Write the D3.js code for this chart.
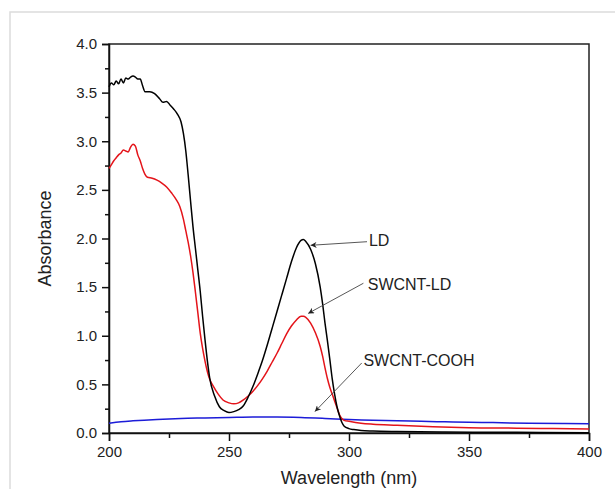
<!DOCTYPE html>
<html>
<head>
<meta charset="utf-8">
<script src="https://cdn.jsdelivr.net/npm/d3@7"></script>
<style>
    body { margin: 0; background: #fff; }
    svg { font-family: "Liberation Sans", Arial, sans-serif; }
    .axis path, .axis line { stroke: #111; }
    .axis text { fill: #222; font-size: 15px; }
    .axis-label { fill: #222; font-size: 18px; }
    .note { fill: #222; font-size: 16px; }
</style>
</head>
<body>
<svg id="chart" width="615" height="489"></svg>
<script>
// LD (black)
const ldSeries = [
    [200, 3.56], [201, 3.60], [202, 3.58], [203, 3.62], [204, 3.59], [205, 3.64], [206, 3.60],
    [207, 3.65], [208, 3.64], [209, 3.66], [210, 3.67], [211, 3.66], [212, 3.64], [213, 3.64],
    [214, 3.57], [215, 3.51], [217, 3.51], [219, 3.49], [221, 3.44], [222.5, 3.40], [224, 3.41],
    [225.5, 3.37], [227, 3.33], [228.5, 3.28], [230, 3.20], [231, 3.08], [232, 2.90], [233, 2.65],
    [234, 2.38], [235, 2.12], [236, 1.90], [237, 1.68], [238, 1.46], [239, 1.20], [240, 0.96],
    [241, 0.74], [242, 0.56], [244, 0.38], [246, 0.27], [248, 0.23], [250, 0.21], [252, 0.22],
    [254, 0.24], [256, 0.28], [258, 0.37], [260, 0.48], [262, 0.61], [264, 0.75], [266, 0.91],
    [268, 1.08], [270, 1.25], [272, 1.42], [274, 1.59], [276, 1.76], [278, 1.90], [280, 1.98],
    [281, 1.99], [282, 1.97], [284, 1.89], [286, 1.74], [288, 1.50], [289, 1.33], [290, 1.13],
    [291, 0.95], [292, 0.76], [293, 0.56], [294, 0.40], [295, 0.27], [296, 0.18], [297, 0.11],
    [298, 0.07], [300, 0.045], [302, 0.035], [305, 0.025], [310, 0.02], [320, 0.015], [340, 0.01],
    [360, 0.008], [380, 0.005], [400, 0.003]
];

// SWCNT-LD (red)
const swcntLdSeries = [
    [200, 2.72], [201, 2.76], [202, 2.80], [203, 2.83], [204, 2.86], [205, 2.88], [206, 2.91],
    [207, 2.90], [208, 2.89], [209, 2.94], [210, 2.97], [211, 2.95], [212, 2.86], [213, 2.80],
    [214, 2.72], [215, 2.66], [216, 2.63], [218, 2.62], [220, 2.60], [222, 2.57], [224, 2.53],
    [226, 2.47], [228, 2.40], [229.5, 2.33], [231, 2.20], [232, 2.08], [233, 1.96], [234, 1.82],
    [235, 1.65], [236, 1.45], [237, 1.24], [238, 1.03], [239, 0.87], [240, 0.74], [241, 0.63],
    [242, 0.55], [243.5, 0.48], [245.5, 0.40], [247.5, 0.34], [250, 0.31], [252, 0.30], [254, 0.31],
    [256, 0.34], [258, 0.38], [260, 0.43], [262, 0.49], [264, 0.56], [266, 0.64], [268, 0.73],
    [270, 0.82], [272, 0.92], [274, 1.02], [276, 1.10], [278, 1.16], [280, 1.20], [281, 1.20],
    [282, 1.19], [284, 1.13], [286, 1.03], [288, 0.89], [289, 0.79], [290, 0.67], [291, 0.56],
    [292, 0.47], [293, 0.40], [294, 0.33], [295, 0.26], [296, 0.19], [297, 0.15], [298, 0.13],
    [300, 0.12], [305, 0.10], [310, 0.09], [320, 0.08], [335, 0.065], [350, 0.055], [370, 0.05],
    [385, 0.045], [400, 0.04]
];

// SWCNT-COOH (blue)
const swcntCoohSeries = [
    [200, 0.10], [205, 0.115], [210, 0.125], [220, 0.14], [230, 0.15], [240, 0.155], [250, 0.16],
    [260, 0.165], [270, 0.165], [280, 0.16], [290, 0.15], [300, 0.138], [310, 0.13], [320, 0.127],
    [330, 0.12], [340, 0.115], [350, 0.11], [360, 0.107], [375, 0.10], [390, 0.097], [400, 0.096]
];

const xTicks = [200, 250, 300, 350, 400];
const xMinorTicks = [225, 275, 325, 375];
const yTicks = [0, 0.5, 1.0, 1.5, 2.0, 2.5, 3.0, 3.5, 4.0];
const yMinorTicks = [0.25, 0.75, 1.25, 1.75, 2.25, 2.75, 3.25, 3.75];

// annotation: text anchor and arrow from/to, in data units
const notes = [
    {label: "LD", text: [308.3, 1.92], from: [307.5, 1.967], to: [284.0, 1.93]},
    {label: "SWCNT-LD", text: [307.8, 1.47], from: [306, 1.54], to: [283.0, 1.23]},
    {label: "SWCNT-COOH", text: [306, 0.69], from: [305.3, 0.72], to: [285.8, 0.22]}
];

const svg = d3.select("#chart");
const margins = {left: 109, right: 26, top: 44, bottom: 56};
const width = 615, height = 489;

// light outer border of the figure
svg.append("path")
    .attr("d", `M10,${height + 2}V12H${width + 2}`)
    .attr("fill", "none")
    .attr("stroke", "#dcdcdc")
    .attr("stroke-width", 1.5);

const x = d3.scaleLinear().domain([200, 400]).range([margins.left, width - margins.right]);
const y = d3.scaleLinear().domain([0, 4]).range([height - margins.bottom, margins.top]);

const g = svg.append("g");

// frame
g.append("rect")
    .attr("x", x(200)).attr("y", y(4))
    .attr("width", x(400) - x(200)).attr("height", y(0) - y(4))
    .attr("fill", "none")
    .attr("stroke", "#222")
    .attr("stroke-width", 1.5);

g.append("g")
    .attr("class", "axis")
    .attr("transform", `translate(0,${y(0)})`)
    .call(d3.axisBottom(x).tickValues(xMinorTicks).tickSize(5).tickFormat(""))
    .call(a => a.select(".domain").remove())
    .selectAll("line").attr("stroke-width", 1.5);

g.append("g")
    .attr("class", "axis")
    .attr("transform", `translate(0,${y(0)})`)
    .call(d3.axisBottom(x).tickValues(xTicks).tickSize(8).tickPadding(5).tickFormat(d3.format("d")))
    .call(a => a.select(".domain").attr("stroke-width", 1.5))
    .selectAll("line").attr("stroke-width", 1.5);

g.append("g")
    .attr("class", "axis")
    .attr("transform", `translate(${x(200)},0)`)
    .call(d3.axisLeft(y).tickValues(yMinorTicks).tickSize(4).tickFormat(""))
    .call(a => a.select(".domain").remove())
    .selectAll("line").attr("stroke-width", 1.5);

g.append("g")
    .attr("class", "axis")
    .attr("transform", `translate(${x(200)},0)`)
    .call(d3.axisLeft(y).tickValues(yTicks).tickSize(7).tickPadding(5).tickFormat(d3.format(".1f")))
    .call(a => a.select(".domain").attr("stroke-width", 1.5))
    .selectAll("line").attr("stroke-width", 1.5);

// axis titles
g.append("text")
    .attr("class", "axis-label")
    .attr("x", (x(200) + x(400)) / 2)
    .attr("y", 484)
    .style("text-anchor", "middle")
    .text("Wavelength (nm)");

g.append("text")
    .attr("class", "axis-label")
    .attr("transform", `translate(51,${(y(0) + y(4)) / 2}) rotate(-90)`)
    .style("text-anchor", "middle")
    .text("Absorbance");

// curves
const line = d3.line().x(d => x(d[0])).y(d => y(d[1])).curve(d3.curveMonotoneX);

const series = [
    {data: swcntCoohSeries, color: "#1c1cd8"},
    {data: swcntLdSeries, color: "#e4141a"},
    {data: ldSeries, color: "#000"}
];

g.selectAll(".curve")
    .data(series)
    .enter()
    .append("path")
    .attr("class", "curve")
    .attr("fill", "none")
    .attr("stroke", d => d.color)
    .attr("stroke-width", 1.5)
    .attr("stroke-linejoin", "round")
    .attr("d", d => line(d.data));

// arrows
svg.append("defs").append("marker")
    .attr("id", "arrow")
    .attr("viewBox", "0 0 10 10")
    .attr("refX", 10).attr("refY", 5)
    .attr("markerWidth", 9).attr("markerHeight", 6)
    .attr("markerUnits", "userSpaceOnUse")
    .attr("orient", "auto")
    .append("path")
    .attr("d", "M0,0L10,5L0,10L3,5Z")
    .attr("fill", "#222");

const noteGroups = g.selectAll(".note-group")
    .data(notes)
    .enter()
    .append("g")
    .attr("class", "note-group");

noteGroups.append("line")
    .attr("x1", d => x(d.from[0])).attr("y1", d => y(d.from[1]))
    .attr("x2", d => x(d.to[0])).attr("y2", d => y(d.to[1]))
    .attr("stroke", "#444")
    .attr("stroke-width", 0.9)
    .attr("marker-end", "url(#arrow)");

noteGroups.append("text")
    .attr("class", "note")
    .attr("x", d => x(d.text[0]))
    .attr("y", d => y(d.text[1]))
    .text(d => d.label);
</script>
</body>
</html>
